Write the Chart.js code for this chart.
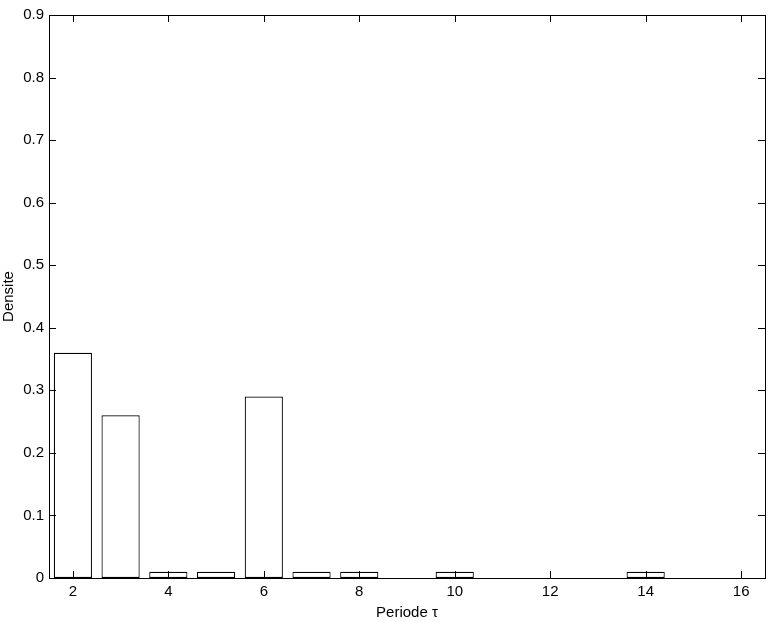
<!DOCTYPE html>
<html>
<head>
<meta charset="utf-8">
<script src="https://cdn.jsdelivr.net/npm/chart.js@4/dist/chart.umd.min.js"></script>
<style>
  html, body { margin: 0; padding: 0; background: #fff; }
  #wrap { width: 771px; height: 622px; }
</style>
</head>
<body>
<div id="wrap"><canvas id="grafico"></canvas></div>
<script>
// dados
const periodes = [2, 3, 4, 5, 6, 7, 8, 10, 14];
const densites = [0.36, 0.26, 0.01, 0.01, 0.29, 0.01, 0.01, 0.01, 0.01];
const xTicks = [2, 4, 6, 8, 10, 12, 14, 16];
const yTicks = [0, 0.1, 0.2, 0.3, 0.4, 0.5, 0.6, 0.7, 0.8, 0.9];

const fonte = { family: "'Liberation Sans', Arial, sans-serif", size: 15 };

// moldura + marcas de escala para dentro (estilo matlab)
const moldura = {
  id: 'moldura',
  afterDraw(chart) {
    const { ctx, chartArea: a, scales } = chart;
    const len = 7;
    ctx.save();
    ctx.strokeStyle = '#000';
    ctx.lineWidth = 1;
    ctx.strokeRect(a.left + 0.5, a.top + 0.5, a.right - a.left, a.bottom - a.top);
    ctx.beginPath();
    xTicks.forEach(v => {
      const px = Math.round(scales.x.getPixelForValue(v)) + 0.5;
      ctx.moveTo(px, a.bottom); ctx.lineTo(px, a.bottom - len);
      ctx.moveTo(px, a.top); ctx.lineTo(px, a.top + len);
    });
    yTicks.forEach(v => {
      const py = Math.round(scales.y.getPixelForValue(v)) + 0.5;
      ctx.moveTo(a.left, py); ctx.lineTo(a.left + len, py);
      ctx.moveTo(a.right, py); ctx.lineTo(a.right - len, py);
    });
    ctx.stroke();
    ctx.restore();
  }
};

new Chart(document.getElementById('grafico'), {
  type: 'bar',
  data: {
    datasets: [{
      data: periodes.map((p, i) => ({ x: p, y: densites[i] })),
      backgroundColor: '#fff',
      borderColor: '#000',
      borderWidth: 1.2,
      borderSkipped: false,
      barPercentage: 0.8,
      categoryPercentage: 1
    }]
  },
  options: {
    responsive: true,
    maintainAspectRatio: false,
    animation: false,
    layout: { padding: { top: 15, right: 6, left: 0, bottom: 0 } },
    plugins: { legend: { display: false }, tooltip: { enabled: false } },
    scales: {
      x: {
        type: 'linear',
        min: 1.5,
        max: 16.5,
        offset: false,
        grid: { display: false, drawTicks: false, offset: false },
        border: { display: false },
        afterBuildTicks: s => { s.ticks = xTicks.map(v => ({ value: v })); },
        afterFit: s => { s.height = 44; },
        ticks: { color: '#000', font: fonte, padding: 5, maxRotation: 0, autoSkip: false },
        title: { display: true, text: 'Periode τ', color: '#000', font: fonte, padding: { top: 0, bottom: 0 } }
      },
      y: {
        min: 0,
        max: 0.9,
        grid: { display: false, drawTicks: false },
        border: { display: false },
        afterBuildTicks: s => { s.ticks = yTicks.map(v => ({ value: v })); },
        afterFit: s => { s.width = 49; },
        ticks: { color: '#000', font: fonte, padding: 5, callback: v => String(Math.round(v * 10) / 10) },
        title: { display: true, text: 'Densite', color: '#000', font: fonte, padding: { top: 0, bottom: 0 } }
      }
    }
  },
  plugins: [moldura]
});
</script>
</body>
</html>
